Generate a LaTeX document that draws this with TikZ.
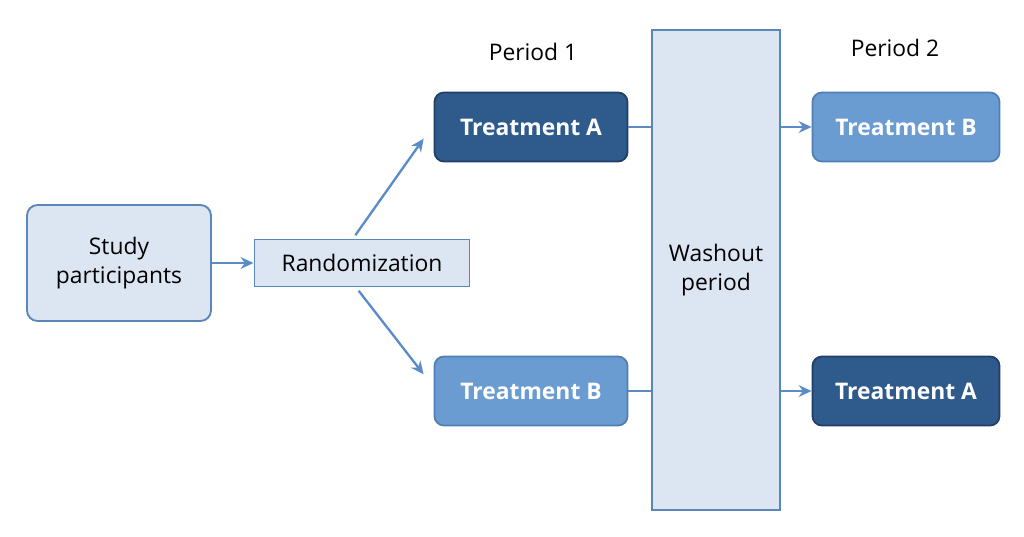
\documentclass[tikz,border=0pt]{standalone}
\usepackage{fontspec}
\setmainfont{Open Sans}
\usetikzlibrary{arrows.meta}
\definecolor{lightf}{HTML}{DCE6F2}
\definecolor{edge}{HTML}{5B86B8}
\definecolor{dark}{HTML}{2F5A8C}
\definecolor{darkb}{HTML}{213F66}
\definecolor{med}{HTML}{6A9BD1}
\definecolor{medb}{HTML}{4F7FB5}
\definecolor{arr}{HTML}{5B8CC8}
\tikzset{
 box/.style={draw=edge, line width=1.6pt, fill=lightf, align=center, font=\fontsize{19.5}{25}\selectfont},
 rbox/.style={box, rounded corners=9pt},
 darkbox/.style={rounded corners=8pt, draw=darkb, line width=1.5pt, fill=dark, text=white, font=\fontsize{19.5}{24}\selectfont\bfseries, minimum width=5.79cm, minimum height=2.07cm},
 medbox/.style={darkbox, draw=medb, fill=med},
 conn/.style={draw=arr, line width=2pt},
 arrw/.style={conn, -{Stealth[length=11pt,width=10pt]}},
}
\begin{document}
\begin{tikzpicture}[x=0.03cm,y=-0.03cm]
\useasboundingbox (0,0) rectangle (1024,537);
\node[rbox, minimum width=5.52cm, minimum height=3.48cm] (sp) at (119,263) {Study\\participants};
\node[box, minimum width=6.45cm, minimum height=1.41cm] (rand) at (362,263) {Randomization};
\node[darkbox] (ta1) at (531,127) {Treatment A};
\node[medbox] (tb1) at (531,391) {Treatment B};
\node[box, minimum width=3.84cm, minimum height=14.4cm] (wash) at (716,270) {Washout\\period};
\node[medbox, minimum width=5.61cm] (tb2) at (906,127) {Treatment B};
\node[darkbox, minimum width=5.61cm] (ta2) at (906,391) {Treatment A};
\node[font=\fontsize{19.5}{24}\selectfont] (p1) at (533,52) {Period 1};
\node[font=\fontsize{19.5}{24}\selectfont] (p2) at (895,48) {Period 2};
\draw[arrw] (sp.east) -- (rand.west);
\draw[arrw] ([xshift=-0.2cm,yshift=0.1cm]rand.north) -- ([xshift=-0.3cm,yshift=-0.35cm]ta1.west);
\draw[arrw] ([xshift=-0.1cm,yshift=-0.1cm]rand.south) -- ([xshift=-0.3cm,yshift=0.5cm]tb1.west);
\draw[conn] (ta1.east) -- (ta1.east -| wash.west);
\draw[conn] (tb1.east) -- (tb1.east -| wash.west);
\draw[arrw] (tb2.west -| wash.east) -- (tb2.west);
\draw[arrw] (ta2.west -| wash.east) -- (ta2.west);
\end{tikzpicture}
\end{document}
